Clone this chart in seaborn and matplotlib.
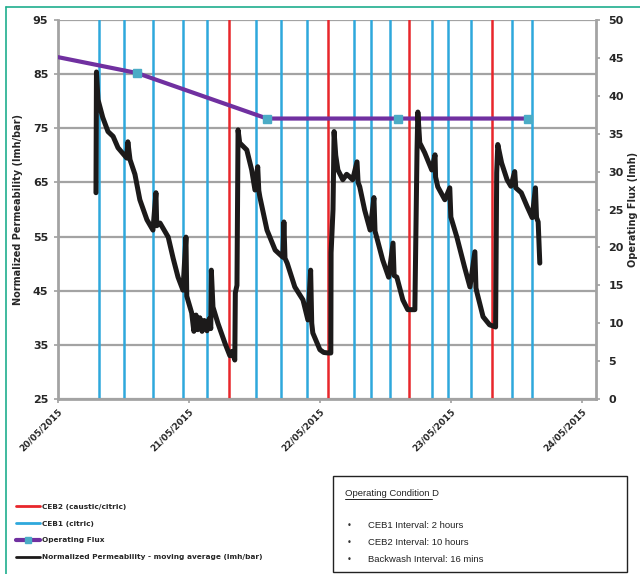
import matplotlib
matplotlib.use("Agg")
import numpy as np
import pandas as pd
import seaborn as sns
import matplotlib.pyplot as plt
from matplotlib.lines import Line2D
from matplotlib.patches import Rectangle

# ---------------- data (hours since 20/05/2015 00:00) ----------------
perm_hours = [6.96, 7.05, 7.33, 8.2, 9.16, 10.1, 11.0, 12.6, 12.8, 13.2, 14.1, 15.0, 16.3, 17.4,
              17.95, 18.1, 18.7, 20.2, 21.1, 22.0, 22.9, 23.45, 23.6, 23.8, 24.5, 24.9, 25.3,
              25.6, 26.0, 26.4, 26.8, 27.3, 27.7, 28.0, 28.1, 28.4, 29.3, 30.6, 31.5, 31.9,
              32.4, 32.5, 32.8, 33.0, 33.3, 34.6, 35.5, 36.1, 36.6, 36.8, 37.0, 38.3, 39.8,
              41.2, 41.4, 41.6, 42.0, 43.4, 44.9, 45.8, 46.3, 46.5, 46.7, 48.0, 48.7, 49.5,
              50.0, 50.05, 50.4, 50.6, 50.9, 51.3, 52.2, 52.9, 53.5, 54.0, 54.8, 55.0, 55.3,
              56.2, 57.2, 57.9, 58.1, 58.4, 59.5, 60.6, 61.4, 61.6, 62.1, 63.2, 64.1, 65.4,
              65.8, 65.95, 66.3, 67.2, 68.5, 69.1, 69.2, 69.6, 70.9, 71.8, 72.0, 73.1, 74.5,
              75.5, 76.4, 76.6, 76.8, 77.9, 79.1, 80.2, 80.4, 80.6, 81.3, 82.3, 83.0, 83.7,
              83.9, 84.9, 86.0, 86.9, 87.5, 87.7, 88.0, 88.3]
perm_values = [63.1, 85.4, 80.3, 77.0, 74.4, 73.5, 71.4, 69.5, 72.5, 69.2, 66.5, 61.8, 58.1, 56.2,
               63.1, 57.0, 57.5, 54.9, 51.0, 47.5, 45.1, 54.9, 44.0, 43.3, 40.9, 37.5, 40.5,
               37.8, 40.0, 37.5, 39.5, 37.6, 39.8, 38.0, 48.8, 42.0, 39.0, 35.3, 33.0, 33.8,
               32.2, 44.6, 46.0, 74.7, 72.3, 71.0, 67.3, 63.6, 67.9, 63.5, 62.3, 56.2, 52.5,
               51.2, 57.7, 51.0, 50.1, 45.7, 43.3, 39.6, 48.8, 39.0, 37.2, 34.1, 33.6, 33.5,
               33.5, 52.0, 60.0, 74.4, 70.0, 67.3, 65.5, 66.5, 66.0, 65.5, 68.8, 65.0, 64.2,
               59.9, 56.2, 62.2, 56.0, 54.9, 50.7, 47.5, 53.8, 47.8, 47.5, 43.3, 41.5, 41.5,
               71.0, 78.0, 72.3, 70.5, 67.3, 70.1, 66.0, 64.2, 61.8, 64.0, 58.6, 54.9, 49.4,
               45.7, 52.2, 45.5, 44.6, 40.2, 38.7, 38.3, 66.8, 72.0, 68.6, 65.5, 64.3, 67.0,
               64.0, 63.1, 60.5, 58.5, 64.0, 58.5, 57.7, 50.1]

flux_hours = [0.0, 14.5, 38.3, 62.3, 86.1]
flux_values = [45.1, 43.0, 37.0, 37.0, 37.0]

ceb1_hours = [7.5, 12.1, 17.4, 22.9, 27.3, 36.3, 40.9, 45.6, 54.2, 57.3, 60.8,
              68.5, 71.5, 75.7, 83.2, 86.8]
ceb2_hours = [31.3, 49.5, 64.3, 79.5]

date_ticks = ["20/05/2015", "21/05/2015", "22/05/2015", "23/05/2015", "24/05/2015"]

legend_labels = ["CEB2 (caustic/citric)", "CEB1 (citric)", "Operating Flux",
                 "Normalized Permeability - moving average (lmh/bar)"]
box_title = "Operating Condition D"
box_items = ["CEB1 Interval: 2 hours", "CEB2 Interval: 10 hours", "Backwash Interval: 16 mins"]

# ---------------- build ----------------
start = pd.Timestamp("2015-05-20")
to_dt = lambda hrs: [start + pd.Timedelta(hours=h) for h in hrs]
perm_df = pd.DataFrame({"time": to_dt(perm_hours), "perm": perm_values})
flux_df = pd.DataFrame({"time": to_dt(flux_hours), "flux": flux_values})

sns.set_theme(style="ticks")
plt.rcParams["font.family"] = ["DejaVu Sans"]

RED = "#e8262b"
BLUE = "#2ea8dc"
PURPLE = "#7030a0"
MARK = "#4bacc6"
BLACK = "#1c1a1a"
GRID = "#a3a3a3"

fig = plt.figure(figsize=(6.4, 5.74), dpi=100)
ax = fig.add_axes([58 / 640, 1 - 399 / 574, (596 - 58) / 640, (399 - 20) / 574])
ax2 = ax.twinx()   # flux
ax3 = ax.twinx()   # permeability line on top

xmin = start
xmax = start + pd.Timedelta(hours=98.6)

# base axes: grid + event lines
ax.set_xlim(xmin, xmax)
ax.set_ylim(25, 95)
ax.set_yticks(np.arange(25, 96, 10))
ax.grid(axis="y", color=GRID, lw=1.6)
ax.set_axisbelow(True)
for h in ceb1_hours:
    ax.axvline(start + pd.Timedelta(hours=h), color=BLUE, lw=1.8, zorder=2)
for h in ceb2_hours:
    ax.axvline(start + pd.Timedelta(hours=h), color=RED, lw=1.8, zorder=2)

tick_dates = [pd.to_datetime(d, format="%d/%m/%Y") for d in date_ticks]
ax.set_xticks(tick_dates)
ax.set_xticklabels(date_ticks, rotation=45, ha="right", rotation_mode="anchor",
                   fontsize=6.5, fontweight="bold")
for lab in ax.get_yticklabels():
    lab.set_fontweight("bold")
ax.tick_params(axis="y", labelsize=8, length=3, color=GRID, pad=4)
ax.tick_params(axis="x", length=3, color=GRID, pad=3)
ax.set_ylabel("Normalized Permeability (lmh/bar)", fontsize=7, fontweight="bold", labelpad=7)
ax.set_xlabel("")
for s in ["top", "right"]:
    ax.spines[s].set_visible(False)
for s in ["left", "bottom"]:
    ax.spines[s].set_color(GRID)
    ax.spines[s].set_linewidth(2)

# flux axis
sns.lineplot(data=flux_df, x="time", y="flux", ax=ax2, color=PURPLE, lw=3,
             estimator=None, sort=False, legend=False, zorder=3)
ax2.plot(flux_df["time"][1:], flux_df["flux"][1:], ls="none", marker="s",
         markersize=5.5, color=MARK, zorder=4)
ax2.set_ylim(0, 50)
ax2.set_yticks(np.arange(0, 51, 5))
ax2.set_ylabel("Operating Flux (lmh)", fontsize=7, fontweight="bold", labelpad=3)
ax2.tick_params(axis="y", labelsize=8, length=3, color=GRID, pad=6)
for lab in ax2.get_yticklabels():
    lab.set_fontweight("bold")
for s in ["top", "left", "bottom"]:
    ax2.spines[s].set_visible(False)
ax2.spines["right"].set_color(GRID)
ax2.spines["right"].set_linewidth(2)
ax2.set_xlim(xmin, xmax)

# permeability line
sns.lineplot(data=perm_df, x="time", y="perm", ax=ax3, color=BLACK, lw=3.6,
             estimator=None, sort=False, legend=False, zorder=5)
ax3.set_ylim(25, 95)
ax3.set_xlim(xmin, xmax)
ax3.set_yticks([])
ax3.set_ylabel("")
ax3.set_xlabel("")
for s in ax3.spines.values():
    s.set_visible(False)
ax2.set_xlabel("")

# legend
handles = [
    Line2D([], [], color=RED, lw=2),
    Line2D([], [], color=BLUE, lw=2),
    Line2D([], [], color=PURPLE, lw=3, marker="s", markersize=5,
           markerfacecolor=MARK, markeredgecolor=MARK),
    Line2D([], [], color=BLACK, lw=2),
]
fig.legend(handles, legend_labels, loc="upper left", bbox_to_anchor=(12 / 640, 1 - 500 / 574),
           frameon=False, prop=dict(size=5.3, weight="bold"), handlelength=3.3,
           handletextpad=0.3, labelspacing=1.45, borderpad=0)

# text box
fig.add_artist(Rectangle((333 / 640, 1 - 572 / 574), (627 - 333) / 640, (572 - 476) / 574,
                         transform=fig.transFigure, fill=False, ec="#222222", lw=1))
fig.text(345 / 640, 1 - 493 / 574, box_title, fontsize=6.8, family="Liberation Sans",
         va="center", ha="left", color="#222222")
fig.add_artist(Line2D([345 / 640, 432 / 640], [1 - 499 / 574, 1 - 499 / 574],
                      transform=fig.transFigure, color="#222222", lw=0.7))
for i, item in enumerate(box_items):
    y = 1 - (525 + 17.5 * i) / 574
    fig.text(349 / 640, y, "•", fontsize=6, va="center", ha="center", color="#333333")
    fig.text(368 / 640, y, item, fontsize=6.8, family="Liberation Sans", va="center",
             ha="left", color="#222222")

# outer teal frame
fig.add_artist(Line2D([6 / 640, 6 / 640], [0, 1 - 7 / 574], transform=fig.transFigure,
                      color="#1fae8e", lw=1.2))
fig.add_artist(Line2D([6 / 640, 1], [1 - 7 / 574, 1 - 7 / 574], transform=fig.transFigure,
                      color="#1fae8e", lw=1.2))

fig.savefig("out.png", dpi=100)
